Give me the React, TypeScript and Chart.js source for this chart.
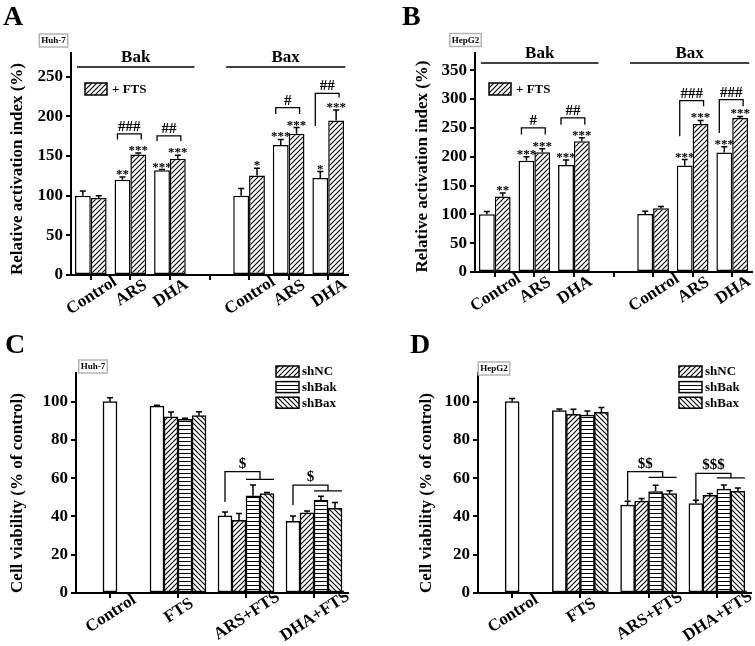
import React, { useEffect, useRef } from 'react';
import { Chart, registerables } from 'chart.js';

Chart.register(...registerables);

const SERIF = '"Liberation Serif", "Times New Roman", Times, serif';

// ---------------- Panel A / B shared categories ----------------
const groupCategories = ['Control', 'ARS', 'DHA', '', 'Control', 'ARS', 'DHA'];
const groupNames = ['Bak', 'Bax'];
const groupSpan = [[-0.35, 2.62], [3.42, 6.43]];

// ---------------- Panel A (Huh-7) ----------------
const aTicksStep = 50;
const aMax = 280;
const aControl = [100, 120, 132, null, 100, 164, 122.5];
const aControlErr = [6, 3.5, 1, null, 9, 7, 8];
const aFts = [97, 152, 146.5, null, 125.5, 178, 195];
const aFtsErr = [3, 2, 4.5, null, 9, 8, 13];
const aControlStars = ['', '**', '***', '', '', '***', '*'];
const aFtsStars = ['', '***', '***', '', '*', '***', '***'];
const aPairMarks = ['', '###', '##', '', '', '#', '##'];
const aPairTop = [null, 178, 175.5, null, null, 211, 229];
const aPairLeftFoot = [null, 171, 169, null, null, 203, 188];
const aPairRightFoot = [null, 171, 169, null, null, 203, 224];

// ---------------- Panel B (HepG2) ----------------
const bTicksStep = 50;
const bMax = 380;
const bControl = [100, 193, 185.5, null, 100.5, 185, 207.5];
const bControlErr = [5, 7, 9, null, 5, 10, 10];
const bFts = [131, 208, 227, null, 110.5, 257, 267];
const bFtsErr = [6, 6, 6, null, 3, 6, 3];
const bControlStars = ['', '***', '***', '', '', '***', '***'];
const bFtsStars = ['**', '***', '***', '', '', '***', '***'];
const bPairMarks = ['', '#', '##', '', '', '###', '###'];
const bPairTop = [null, 250, 267.5, null, null, 297.5, 299];
const bPairLeftFoot = [null, 238.5, 255.5, null, null, 235.5, 241];
const bPairRightFoot = [null, 238.5, 255.5, null, null, 287.5, 287.5];

// ---------------- Panels C / D shared ----------------
const viabilityCategories = ['Control', 'FTS', 'ARS+FTS', 'DHA+FTS'];
const shSeries = ['shNC', 'shBak', 'shBax'];
const viabilityStep = 20;
const viabilityMax = 115;

// ---------------- Panel C (Huh-7) ----------------
const cWhite = [100, 97.7, 40.3, 37.5];
const cWhiteErr = [2, 0.4, 2, 2.8];
const cShNC = [null, 92.1, 38, 41.9];
const cShNCErr = [null, 2.5, 3.5, 0.9];
const cShBak = [null, 90.8, 50.8, 48.5];
const cShBakErr = [null, 0.6, 5.6, 2.1];
const cShBax = [null, 92.7, 52, 44.2];
const cShBaxErr = [null, 2, 0.5, 3.1];
const cMarks = ['', '', '$', '$'];
const cMarkTop = [null, null, 63.4, 56.4];
const cMarkLeftFoot = [null, null, 47.6, 45.9];
const cMarkRightFoot = [null, null, 59.4, 53.4];

// ---------------- Panel D (HepG2) ----------------
const dWhite = [100, 95.3, 45.9, 46.8];
const dWhiteErr = [1.7, 0.9, 2.1, 1.7];
const dShNC = [null, 93.4, 48, 51];
const dShNCErr = [null, 2.6, 1.4, 1];
const dShBak = [null, 93, 53, 54.3];
const dShBakErr = [null, 2.1, 3.3, 2.1];
const dShBax = [null, 94.4, 52, 53.2];
const dShBaxErr = [null, 2.6, 1.4, 1.7];
const dMarks = ['', '', '$$', '$$$'];
const dMarkTop = [null, null, 63.4, 62.5];
const dMarkLeftFoot = [null, null, 48.5, 47.6];
const dMarkRightFoot = [null, null, 60.4, 60.2];

// ---------------- helpers ----------------
const Y_W = 50;
const X_H = 10;

function makeHatch(kind: string): CanvasPattern {
  const s = kind === 'horiz' ? 4 : 5;
  const c = document.createElement('canvas');
  c.width = s;
  c.height = s;
  const g = c.getContext('2d')!;
  g.fillStyle = '#fff';
  g.fillRect(0, 0, s, s);
  g.fillStyle = '#000';
  g.strokeStyle = '#000';
  g.lineWidth = 1.1;
  if (kind === 'horiz') {
    g.fillRect(0, 1, s, 1);
  } else {
    g.beginPath();
    if (kind === 'fwd') {
      g.moveTo(-1, s + 1); g.lineTo(s + 1, -1);
      g.moveTo(-1, 1); g.lineTo(1, -1);
      g.moveTo(s - 1, s + 1); g.lineTo(s + 1, s - 1);
    } else {
      g.moveTo(-1, -1); g.lineTo(s + 1, s + 1);
      g.moveTo(s - 1, -1); g.lineTo(s + 1, 1);
      g.moveTo(-1, s - 1); g.lineTo(1, s + 1);
    }
    g.stroke();
  }
  return g.createPattern(c, 'repeat')!;
}

function drawText(ctx: CanvasRenderingContext2D, t: string, x: number, y: number, size: number, align: CanvasTextAlign = 'center', base: CanvasTextBaseline = 'alphabetic') {
  ctx.font = `bold ${size}px ${SERIF}`;
  ctx.fillStyle = '#000';
  ctx.textAlign = align;
  ctx.textBaseline = base;
  ctx.fillText(t, x, y);
}

function commonDecor(chart: any, ctx: CanvasRenderingContext2D, L: any, labels: string[], errors: any[]) {
  const area = chart.chartArea;
  const xs = chart.scales.x;
  const ys = chart.scales.y;
  // error bars
  ctx.strokeStyle = '#000';
  ctx.lineWidth = 1.5;
  errors.forEach((errs: any[], di: number) => {
    const meta = chart.getDatasetMeta(di);
    const vals = chart.data.datasets[di].data;
    meta.data.forEach((bar: any, i: number) => {
      const v = vals[i];
      const e = errs[i];
      if (v == null || e == null) return;
      const top = ys.getPixelForValue(v + e);
      ctx.beginPath();
      ctx.moveTo(bar.x, bar.y);
      ctx.lineTo(bar.x, top);
      ctx.moveTo(bar.x - 3, top);
      ctx.lineTo(bar.x + 3, top);
      ctx.stroke();
    });
  });
  // rotated x labels
  labels.forEach((lab, i) => {
    if (!lab) return;
    const px = xs.getPixelForValue(i);
    ctx.font = `bold 17px ${SERIF}`;
    const w = ctx.measureText(lab).width;
    const cy = area.bottom + 14 + 0.12 * w;
    ctx.save();
    ctx.translate(px + 1, cy);
    ctx.rotate((-33 * Math.PI) / 180);
    drawText(ctx, lab, 0, 0, 17, 'center', 'middle');
    ctx.restore();
  });
  // y title
  ctx.save();
  ctx.translate(L.titleX, L.titleY);
  ctx.rotate(-Math.PI / 2);
  drawText(ctx, L.title, 0, 0, 17, 'center', 'middle');
  ctx.restore();
  // panel letter
  drawText(ctx, L.letter, L.letterX, L.letterY, 28, 'left', 'alphabetic');
  // cell line box
  ctx.font = `bold 9px ${SERIF}`;
  const tw = ctx.measureText(L.cell).width;
  ctx.strokeStyle = '#b4b4b4';
  ctx.lineWidth = 1.5;
  ctx.strokeRect(L.cellX - tw / 2 - 2, L.cellY - 6.5, tw + 4, 13);
  drawText(ctx, L.cell, L.cellX, L.cellY + 0.5, 9, 'center', 'middle');
}

function pairDecor(L: any, errors: any[], stars: string[][], marks: string[], top: any[], lf: any[], rf: any[]) {
  return {
    id: 'pairDecor' + L.letter,
    afterDraw(chart: any) {
      const ctx = chart.ctx as CanvasRenderingContext2D;
      const area = chart.chartArea;
      const xs = chart.scales.x;
      const ys = chart.scales.y;
      ctx.save();
      commonDecor(chart, ctx, L, groupCategories, errors);
      // stars
      stars.forEach((st, di) => {
        const meta = chart.getDatasetMeta(di);
        const vals = chart.data.datasets[di].data;
        st.forEach((s, i) => {
          if (!s) return;
          const bar = meta.data[i];
          const yTop = ys.getPixelForValue(vals[i] + (errors[di][i] || 0));
          drawText(ctx, s, bar.x, yTop + 1, 13);
        });
      });
      // brackets
      const m0 = chart.getDatasetMeta(0);
      const m1 = chart.getDatasetMeta(1);
      ctx.strokeStyle = '#000';
      ctx.lineWidth = 1.3;
      marks.forEach((m, i) => {
        if (!m) return;
        const x1 = m0.data[i].x - 5;
        const x2 = m1.data[i].x + 3;
        const yt = ys.getPixelForValue(top[i]);
        ctx.beginPath();
        ctx.moveTo(x1, ys.getPixelForValue(lf[i]));
        ctx.lineTo(x1, yt);
        ctx.lineTo(x2, yt);
        ctx.lineTo(x2, ys.getPixelForValue(rf[i]));
        ctx.stroke();
        drawText(ctx, m, (x1 + x2) / 2, yt - 3, 15);
      });
      // group labels
      ctx.lineWidth = 1.5;
      groupNames.forEach((g, k) => {
        const xa = xs.getPixelForValue(groupSpan[k][0]);
        const xb = xs.getPixelForValue(groupSpan[k][1]);
        ctx.beginPath();
        ctx.moveTo(xa, L.groupLineY);
        ctx.lineTo(xb, L.groupLineY);
        ctx.stroke();
        drawText(ctx, g, (xa + xb) / 2, L.groupLineY - 5.5, 17);
      });
      // legend
      const bx = area.left + 14;
      const by = area.top + 30;
      ctx.fillStyle = chart.data.datasets[1].backgroundColor;
      ctx.fillRect(bx, by, 22, 12);
      ctx.strokeStyle = '#000';
      ctx.lineWidth = 1.5;
      ctx.strokeRect(bx, by, 22, 12);
      drawText(ctx, '+ FTS', bx + 27, by + 6.5, 13, 'left', 'middle');
      ctx.restore();
    },
  };
}

function viabilityDecor(L: any, errors: any[], marks: string[], top: any[], lf: any[], rf: any[]) {
  return {
    id: 'viaDecor' + L.letter,
    afterDraw(chart: any) {
      const ctx = chart.ctx as CanvasRenderingContext2D;
      const area = chart.chartArea;
      const ys = chart.scales.y;
      ctx.save();
      commonDecor(chart, ctx, L, viabilityCategories, errors);
      const mw = chart.getDatasetMeta(0);
      const mk = chart.getDatasetMeta(2);
      const mx = chart.getDatasetMeta(3);
      ctx.strokeStyle = '#000';
      ctx.lineWidth = 1.3;
      marks.forEach((m, i) => {
        if (!m) return;
        const bw = mw.data[i];
        const bk = mk.data[i];
        const bxr = mx.data[i];
        const lo1 = bk.x - bk.width / 2;
        const lo2 = bxr.x + bxr.width / 2;
        const x2 = (lo1 + lo2) / 2;
        const yt = ys.getPixelForValue(top[i]);
        const yl = ys.getPixelForValue(lf[i]);
        const yr = ys.getPixelForValue(rf[i]);
        ctx.beginPath();
        ctx.moveTo(bw.x, yl);
        ctx.lineTo(bw.x, yt);
        ctx.lineTo(x2, yt);
        ctx.lineTo(x2, yr);
        ctx.moveTo(lo1, yr);
        ctx.lineTo(lo2, yr);
        ctx.stroke();
        drawText(ctx, m, (bw.x + x2) / 2, yt - 4, 15);
      });
      // legend
      shSeries.forEach((name, k) => {
        const bx = area.right - 72;
        const by = area.top - 7 + k * 15.6;
        ctx.fillStyle = chart.data.datasets[k + 1].backgroundColor;
        ctx.fillRect(bx, by, 23, 11);
        ctx.strokeStyle = '#000';
        ctx.lineWidth = 1.5;
        ctx.strokeRect(bx, by, 23, 11);
        drawText(ctx, name, bx + 26, by + 6, 13, 'left', 'middle');
      });
      ctx.restore();
    },
  };
}

function axes(L: any, step: number, max: number) {
  return {
    x: {
      grid: { display: true, offset: false, drawOnChartArea: false, drawTicks: true, tickLength: 5, color: '#000', lineWidth: 2 },
      border: { display: true, color: '#000', width: 2 },
      ticks: { display: false },
      afterFit: (s: any) => { s.height = X_H; },
    },
    y: {
      min: 0,
      max,
      grid: { display: true, drawOnChartArea: false, drawTicks: true, tickLength: 5, color: '#000', lineWidth: 2 },
      border: { display: true, color: '#000', width: 2 },
      ticks: { stepSize: step, includeBounds: false, color: '#000', padding: 3, font: { family: SERIF, size: 17, weight: 'bold' } },
      afterBuildTicks: (s: any) => { s.ticks = s.ticks.filter((t: any) => t.value % step === 0); },
      afterFit: (s: any) => { s.width = Y_W; },
    },
  };
}

function padding(L: any) {
  return {
    left: L.area.left - Y_W,
    right: L.w - L.area.right,
    top: L.area.top,
    bottom: L.h - L.area.bottom - X_H,
  };
}

const barBase = { borderColor: '#000', borderWidth: 1.5, borderSkipped: false };

function pairConfig(L: any, control: any[], fts: any[], step: number, max: number, errors: any[], stars: string[][], marks: string[], top: any[], lf: any[], rf: any[]) {
  return {
    type: 'bar',
    data: {
      labels: groupCategories,
      datasets: [
        { label: 'Control', data: control, backgroundColor: '#fff', ...barBase },
        { label: '+ FTS', data: fts, backgroundColor: makeHatch('fwd'), ...barBase },
      ],
    },
    options: {
      responsive: false,
      animation: false,
      layout: { padding: padding(L) },
      datasets: { bar: { categoryPercentage: 0.8, barPercentage: 1 } },
      plugins: { legend: { display: false }, tooltip: { enabled: false } },
      scales: axes(L, step, max),
    },
    plugins: [pairDecor(L, errors, stars, marks, top, lf, rf)],
  };
}

function viabilityConfig(L: any, white: any[], nc: any[], bak: any[], bax: any[], errors: any[], marks: string[], top: any[], lf: any[], rf: any[]) {
  return {
    type: 'bar',
    data: {
      labels: viabilityCategories,
      datasets: [
        { label: 'none', data: white, backgroundColor: '#fff', ...barBase },
        { label: shSeries[0], data: nc, backgroundColor: makeHatch('fwd'), ...barBase },
        { label: shSeries[1], data: bak, backgroundColor: makeHatch('horiz'), ...barBase },
        { label: shSeries[2], data: bax, backgroundColor: makeHatch('back'), ...barBase },
      ],
    },
    options: {
      responsive: false,
      animation: false,
      layout: { padding: padding(L) },
      datasets: { bar: { barThickness: 14, skipNull: true } },
      plugins: { legend: { display: false }, tooltip: { enabled: false } },
      scales: axes(L, viabilityStep, viabilityMax),
    },
    plugins: [viabilityDecor(L, errors, marks, top, lf, rf)],
  };
}

const layoutA = { w: 377, h: 320, area: { left: 71, right: 348, top: 53, bottom: 275 }, letter: 'A', letterX: 3, letterY: 25, cell: 'Huh-7', cellX: 53.5, cellY: 40.5, title: 'Relative activation index (%)', titleX: 18, titleY: 169, groupLineY: 67 };
const layoutB = { w: 378, h: 320, area: { left: 98, right: 375, top: 53, bottom: 272 }, letter: 'B', letterX: 25, letterY: 25, cell: 'HepG2', cellX: 88.5, cellY: 40, title: 'Relative activation index (%)', titleX: 45.5, titleY: 166.5, groupLineY: 63 };
const layoutC = { w: 377, h: 326, area: { left: 76, right: 348, top: 53, bottom: 273 }, letter: 'C', letterX: 5, letterY: 33, cell: 'Huh-7', cellX: 93, cellY: 46.5, title: 'Cell viability (% of control)', titleX: 18, titleY: 173 };
const layoutD = { w: 378, h: 326, area: { left: 101, right: 374, top: 53, bottom: 273 }, letter: 'D', letterX: 33, letterY: 33, cell: 'HepG2', cellX: 117, cellY: 48.5, title: 'Cell viability (% of control)', titleX: 49.5, titleY: 173 };

function ChartBox({ left, top, w, h, build }: any) {
  const ref = useRef<HTMLCanvasElement>(null);
  useEffect(() => {
    const chart = new Chart(ref.current as HTMLCanvasElement, build());
    return () => chart.destroy();
  }, []);
  return (
    <div style={{ position: 'absolute', left, top, width: w, height: h }}>
      <canvas ref={ref} width={w} height={h} style={{ display: 'block', width: w, height: h }} />
    </div>
  );
}

export default function App() {
  return (
    <div style={{ position: 'absolute', left: 0, top: 0, width: 755, height: 646, background: '#fff' }}>
      <ChartBox left={0} top={0} w={layoutA.w} h={layoutA.h}
        build={() => pairConfig(layoutA, aControl, aFts, aTicksStep, aMax, [aControlErr, aFtsErr], [aControlStars, aFtsStars], aPairMarks, aPairTop, aPairLeftFoot, aPairRightFoot)} />
      <ChartBox left={377} top={0} w={layoutB.w} h={layoutB.h}
        build={() => pairConfig(layoutB, bControl, bFts, bTicksStep, bMax, [bControlErr, bFtsErr], [bControlStars, bFtsStars], bPairMarks, bPairTop, bPairLeftFoot, bPairRightFoot)} />
      <ChartBox left={0} top={320} w={layoutC.w} h={layoutC.h}
        build={() => viabilityConfig(layoutC, cWhite, cShNC, cShBak, cShBax, [cWhiteErr, cShNCErr, cShBakErr, cShBaxErr], cMarks, cMarkTop, cMarkLeftFoot, cMarkRightFoot)} />
      <ChartBox left={377} top={320} w={layoutD.w} h={layoutD.h}
        build={() => viabilityConfig(layoutD, dWhite, dShNC, dShBak, dShBax, [dWhiteErr, dShNCErr, dShBakErr, dShBaxErr], dMarks, dMarkTop, dMarkLeftFoot, dMarkRightFoot)} />
    </div>
  );
}
